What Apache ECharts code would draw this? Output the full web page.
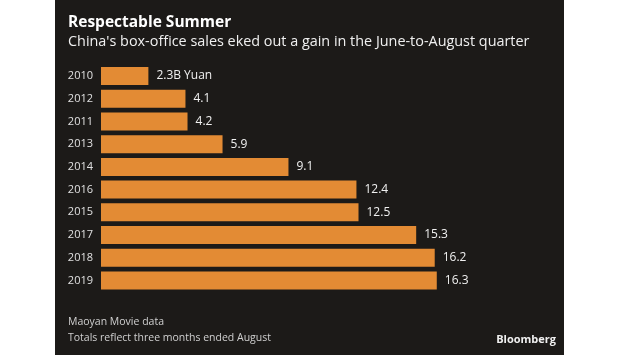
<!DOCTYPE html>
<html><head><meta charset="utf-8">
<script src="https://cdn.jsdelivr.net/npm/echarts@6/dist/echarts.min.js"></script>
<style>html,body{margin:0;padding:0;background:#fff}#c{width:620px;height:355px}</style>
</head><body><div id="c"></div>
<script>
const years = ['2010','2012','2011','2013','2014','2016','2015','2017','2018','2019'];
const sales = [2.3,4.1,4.2,5.9,9.1,12.4,12.5,15.3,16.2,16.3];
const titleText = 'Respectable Summer';
const subtitleText = "China's box-office sales eked out a gain in the June-to-August quarter";
const notes = ['Maoyan Movie data','Totals reflect three months ended August'];
const FONT = 'Open Sans';
const chart = echarts.init(document.getElementById('c'));
chart.setOption({
  backgroundColor:'#ffffff',
  animation:false,
  graphic:[
    {type:'rect',left:55,top:0,shape:{width:509,height:355},style:{fill:'#1c1a18'},z:-10},
    {type:'text',left:68,top:15,style:{text:titleText,fill:'#ffffff',font:'bold 15.5px "'+FONT+'"'}},
    {type:'text',left:68,top:35,style:{text:subtitleText,fill:'#f0f0f0',font:'14.4px "'+FONT+'"'}},
    {type:'text',left:68,top:317,style:{text:notes[0],fill:'#d0d0d0',font:'10.5px "'+FONT+'"'}},
    {type:'text',left:68,top:333,style:{text:notes[1],fill:'#d0d0d0',font:'10.5px "'+FONT+'"'}},
    {type:'text',right:64,top:334,style:{text:'Bloomberg',fill:'#f0f0f0',font:'bold 11px "'+FONT+'"'}}
  ],
  grid:{left:101,top:64.6,width:412,height:227.3,containLabel:false},
  xAxis:{type:'value',min:0,max:20,show:false},
  yAxis:{type:'category',data:years,inverse:true,
    axisLine:{show:false},axisTick:{show:false},
    axisLabel:{color:'#e0e0e0',fontFamily:FONT,fontSize:11,margin:8}},
  series:[{type:'bar',data:sales,barWidth:18,
    itemStyle:{color:'#e38b34'},
    label:{show:true,position:'right',distance:8,color:'#f0f0f0',fontFamily:FONT,fontSize:12,
      formatter:p=>p.dataIndex===0?p.value+'B Yuan':p.value}}]
});
</script></body></html>
